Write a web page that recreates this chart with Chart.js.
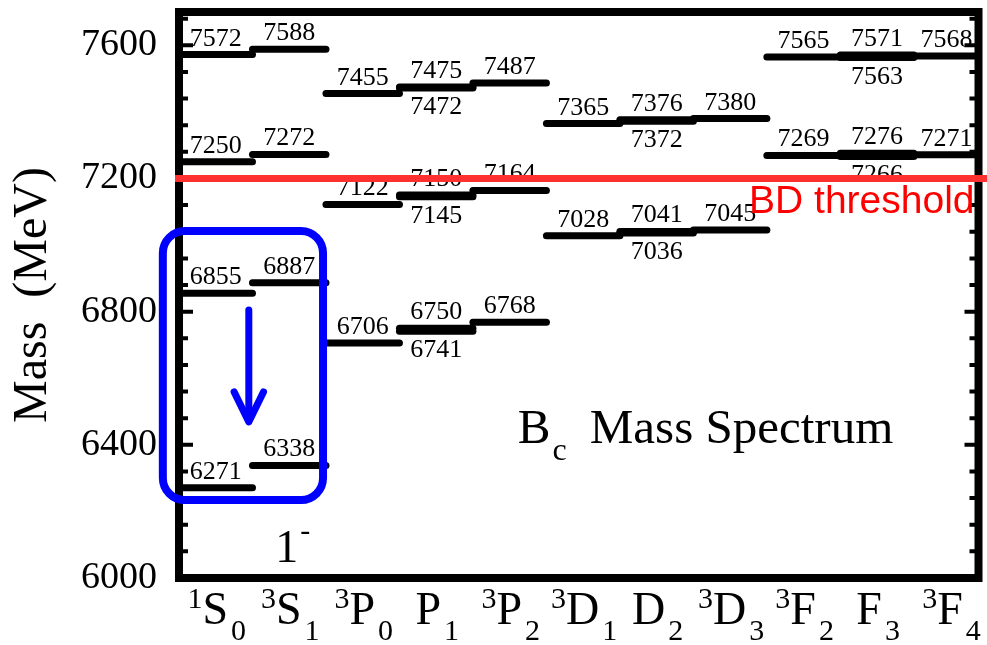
<!DOCTYPE html>
<html><head><meta charset="utf-8">
<script src="https://cdn.jsdelivr.net/npm/chart.js@4.4.0/dist/chart.umd.min.js"></script>
<style>html,body{margin:0;padding:0;background:#fff;}canvas{display:block;}</style>
</head><body>
<canvas id="c" width="987" height="645"></canvas>
<script>
// ---- data ----
const catSup  = ['1','3','3','','3','3','','3','3','','3'];
const catMain = ['S','S','P','P','P','D','D','D','F','F','F'];
const catSub  = ['0','1','0','1','2','1','2','3','2','3','4'];
const levels = [
  [6271, 6855, 7250, 7572],
  [6338, 6887, 7272, 7588],
  [6706, 7122, 7455],
  [6741, 6750, 7145, 7150, 7472, 7475],
  [6768, 7164, 7487],
  [7028, 7365],
  [7036, 7041, 7372, 7376],
  [7045, 7380],
  [7269, 7565],
  [7266, 7276, 7563, 7571],
  [7271, 7568]
];
const labelsBelow = [[], [], [], [6741, 7145, 7472], [], [], [7036, 7372], [], [], [7266, 7563], []];
const yTicks = [6000, 6400, 6800, 7200, 7600];
const yTickLabels = ['6000', '6400', '6800', '7200', '7600'];
const yMinorStep = 80;
const bdThreshold = 7200;
const bdLabel = 'BD threshold';
const yTitle = 'Mass  (MeV)';
const plotTitleMain = 'B';
const plotTitleSub = 'c';
const plotTitleRest = 'Mass Spectrum';
const boxLabelMain = '1';
const boxLabelSup = '-';
// annotation anchors in data units
const boxX = [-0.22, 1.96], boxY = [7042, 6234];
const arrowX = 0.95, arrowY = [6805, 6469], arrowHeadY = 6559;
const boxLabelPos = [1.31, 6048];
const titlePos = [4.61, 6405];

const SERIF = "'Liberation Serif', 'Times New Roman', serif";
const SANS = "'Liberation Sans', Arial, sans-serif";

const datasets = [];
levels.forEach((arr, i) => arr.forEach(v => datasets.push({
  data: [{x: i, y: v}, {x: i + 1, y: v}],
  borderColor: '#000', borderWidth: 7, borderCapStyle: 'round',
  pointRadius: 0, pointHoverRadius: 0, tension: 0, fill: false
})));

const decor = {
  id: 'decor',
  beforeDatasetsDraw(chart) {
    const {ctx, chartArea: a, scales: {y}} = chart;
    ctx.save();
    ctx.strokeStyle = '#000';
    ctx.lineWidth = 4;
    for (let v = y.min; v <= y.max; v += yMinorStep) {
      const major = yTicks.includes(v);
      const py = y.getPixelForValue(v);
      const L = major ? 14 : 9;
      ctx.beginPath();
      ctx.moveTo(a.left, py); ctx.lineTo(a.left + L, py);
      ctx.moveTo(a.right, py); ctx.lineTo(a.right - L, py);
      ctx.stroke();
    }
    ctx.lineWidth = 8;
    ctx.strokeRect(a.left, a.top, a.right - a.left, a.bottom - a.top);
    ctx.restore();
  },
  afterDatasetsDraw(chart) {
    const {ctx, chartArea: a, scales: {x, y}} = chart;
    const X = v => x.getPixelForValue(v), Y = v => y.getPixelForValue(v);
    ctx.save();
    // level labels
    ctx.fillStyle = '#000';
    ctx.font = '26px ' + SERIF;
    ctx.textAlign = 'center';
    ctx.textBaseline = 'alphabetic';
    levels.forEach((arr, i) => {
      const cx = Math.min((X(i) + X(i + 1)) / 2, a.right - 32);
      arr.forEach(v => {
        const py = Y(v);
        if (labelsBelow[i].includes(v)) ctx.fillText(String(v), cx, py + 26);
        else ctx.fillText(String(v), cx, py - 9);
      });
    });
    // threshold line
    const ty = Y(bdThreshold);
    ctx.strokeStyle = '#ff3030';
    ctx.lineWidth = 7;
    ctx.beginPath(); ctx.moveTo(a.left - 4, ty); ctx.lineTo(chart.width, ty); ctx.stroke();
    ctx.fillStyle = '#ff0000';
    ctx.font = '39px ' + SANS;
    ctx.textAlign = 'right';
    ctx.fillText(bdLabel, a.right - 4, ty + 35);
    // blue box
    const bx0 = X(boxX[0]), bx1 = X(boxX[1]), by0 = Y(boxY[0]), by1 = Y(boxY[1]), r = 22;
    ctx.strokeStyle = '#0000ff';
    ctx.lineWidth = 8;
    ctx.beginPath();
    ctx.moveTo(bx0 + r, by0);
    ctx.lineTo(bx1 - r, by0); ctx.arcTo(bx1, by0, bx1, by0 + r, r);
    ctx.lineTo(bx1, by1 - r); ctx.arcTo(bx1, by1, bx1 - r, by1, r);
    ctx.lineTo(bx0 + r, by1); ctx.arcTo(bx0, by1, bx0, by1 - r, r);
    ctx.lineTo(bx0, by0 + r); ctx.arcTo(bx0, by0, bx0 + r, by0, r);
    ctx.closePath(); ctx.stroke();
    // arrow
    const ax = X(arrowX);
    ctx.lineWidth = 7; ctx.lineCap = 'round'; ctx.lineJoin = 'round';
    ctx.beginPath(); ctx.moveTo(ax, Y(arrowY[0])); ctx.lineTo(ax, Y(arrowY[1]) - 3); ctx.stroke();
    const hw = X(arrowX + 0.2) - ax;
    ctx.beginPath();
    ctx.moveTo(ax - hw, Y(arrowHeadY)); ctx.lineTo(ax, Y(arrowY[1])); ctx.lineTo(ax + hw, Y(arrowHeadY));
    ctx.stroke();
    // 1^- label
    ctx.fillStyle = '#000';
    ctx.textAlign = 'left';
    ctx.font = '46px ' + SERIF;
    const lx = X(boxLabelPos[0]), ly = Y(boxLabelPos[1]);
    ctx.fillText(boxLabelMain, lx, ly);
    const w1 = ctx.measureText(boxLabelMain).width;
    ctx.font = '30px ' + SERIF;
    ctx.fillText(boxLabelSup, lx + w1 + 2, ly - 22);
    // B_c Mass Spectrum
    const tx = X(titlePos[0]), tyy = Y(titlePos[1]);
    ctx.font = '49px ' + SERIF;
    ctx.fillText(plotTitleMain, tx, tyy);
    const wb = ctx.measureText(plotTitleMain).width;
    ctx.font = '32px ' + SERIF;
    ctx.fillText(plotTitleSub, tx + wb + 2, tyy + 17);
    ctx.font = '49px ' + SERIF;
    ctx.fillText(plotTitleRest, tx + 72, tyy);
    // category labels
    const bMain = a.bottom + 46, bSup = a.bottom + 30, bSub = a.bottom + 62;
    for (let i = 0; i < catMain.length; i++) {
      const cx = (X(i) + X(i + 1)) / 2 + 1;
      ctx.font = '30px ' + SERIF; const ws = ctx.measureText(catSup[i]).width; const wsub = ctx.measureText(catSub[i]).width;
      ctx.font = '46px ' + SERIF; const wm = ctx.measureText(catMain[i]).width;
      const total = ws + wm + 3 + wsub;
      let sx = cx - total / 2;
      ctx.font = '30px ' + SERIF; ctx.fillText(catSup[i], sx, bSup);
      sx += ws;
      ctx.font = '46px ' + SERIF; ctx.fillText(catMain[i], sx, bMain);
      sx += wm + 3;
      ctx.font = '30px ' + SERIF; ctx.fillText(catSub[i], sx, bSub);
    }
    ctx.restore();
  }
};

new Chart(document.getElementById('c').getContext('2d'), {
  type: 'line',
  data: {datasets},
  options: {
    responsive: false, animation: false, devicePixelRatio: 1,
    layout: {padding: {left: 0, top: 12, right: 8.5, bottom: 67}},
    plugins: {legend: {display: false}, tooltip: {enabled: false}},
    scales: {
      x: {type: 'linear', min: 0, max: 10.88, display: false},
      y: {
        type: 'linear', min: 6000, max: 7700,
        afterBuildTicks: s => { s.ticks = yTicks.map(v => ({value: v})); },
        afterFit: s => { s.width = 179; s.paddingTop = 0; s.paddingBottom = 0; },
        grid: {display: false, drawTicks: false},
        border: {display: false},
        ticks: {padding: 22, color: '#000', font: {family: SERIF, size: 38},
                callback: (v) => { const k = yTicks.indexOf(v); return k >= 0 ? yTickLabels[k] : ''; }},
        title: {display: true, text: yTitle, color: '#000', font: {family: SERIF, size: 48}, padding: {top: 5, bottom: 0}}
      }
    }
  },
  plugins: [decor]
});
</script>
</body></html>
